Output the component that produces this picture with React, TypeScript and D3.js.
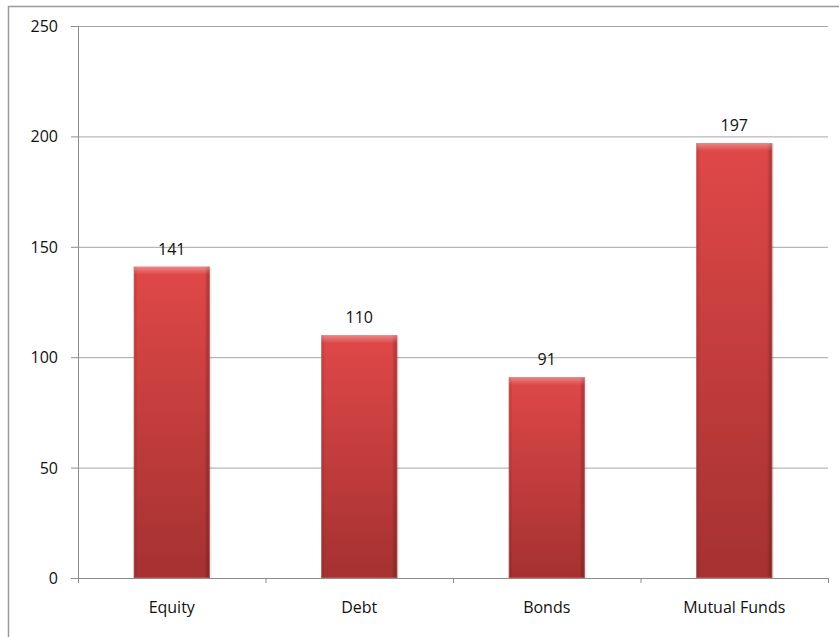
import React from "react";
import * as d3 from "d3";

const categories = ["Equity", "Debt", "Bonds", "Mutual Funds"];
const values = [141, 110, 91, 197];
const yTicks = [0, 50, 100, 150, 200, 250];

export default function App() {
  const W = 839, H = 637;
  const left = 78, right = 828, top = 26, bottom = 578;
  const x = d3.scaleBand<string>().domain(categories).range([left, right]).paddingInner(0.595).paddingOuter(0.2975);
  const y = d3.scaleLinear().domain([0, 250]).range([bottom, top]);
  const font = "'Open Sans', 'Liberation Sans', sans-serif";
  const bw = x.bandwidth();
  const step = x.step();
  return (
    <svg width={W} height={H} style={{ position: "absolute", left: 0, top: 0 }}>
      <defs>
        <linearGradient id="vg" x1="0" y1="0" x2="0" y2="1">
          <stop offset="0" stopColor="#e04848" />
          <stop offset="1" stopColor="#a53131" />
        </linearGradient>
        <linearGradient id="hg" x1="0" y1="0" x2="1" y2="0">
          <stop offset="0" stopColor="#000" stopOpacity="0.18" />
          <stop offset="0.05" stopColor="#000" stopOpacity="0" />
          <stop offset="0.93" stopColor="#000" stopOpacity="0" />
          <stop offset="1" stopColor="#000" stopOpacity="0.3" />
        </linearGradient>
        <linearGradient id="tg" x1="0" y1="0" x2="0" y2="1">
          <stop offset="0" stopColor="#fff" stopOpacity="0.35" />
          <stop offset="1" stopColor="#fff" stopOpacity="0" />
        </linearGradient>
      </defs>
      <rect x={0} y={0} width={W} height={H} fill="#fff" />
      <path d={`M8.5,${H} V6.5 H${W}`} fill="none" stroke="#9a9a9a" strokeWidth={1.5} />
      {yTicks.map((t) => (
        <g key={t}>
          {t > 0 && <line x1={left} x2={right} y1={y(t) + 0.5} y2={y(t) + 0.5} stroke="#a6a6a6" />}
          <line x1={left - 7} x2={left} y1={y(t) + 0.5} y2={y(t) + 0.5} stroke="#8c8c8c" />
          <text x={left - 20} y={y(t) + 6} textAnchor="end" fontFamily={font} fontSize={16} fill="#111">{t}</text>
        </g>
      ))}
      <line x1={left + 0.5} x2={left + 0.5} y1={top} y2={bottom + 5} stroke="#8c8c8c" />
      <line x1={left} x2={right} y1={bottom + 0.5} y2={bottom + 0.5} stroke="#8c8c8c" />
      {d3.range(categories.length + 1).map((i) => (
        <line key={i} x1={left + i * step + 0.5} x2={left + i * step + 0.5} y1={bottom} y2={bottom + 5} stroke="#8c8c8c" />
      ))}
      {categories.map((c, i) => {
        const bx = x(c)!;
        const by = y(values[i]);
        const bh = bottom - by;
        return (
          <g key={c}>
            <rect x={bx + 2} y={by + 1} width={bw} height={bh - 1} fill="#000" opacity={0.08} />
            <rect x={bx} y={by} width={bw} height={bh} fill="url(#vg)" />
            <rect x={bx} y={by} width={bw} height={bh} fill="url(#hg)" />
            <rect x={bx} y={by} width={bw} height={Math.min(8, bh)} fill="url(#tg)" />
            <rect x={bx + 0.5} y={by + 0.5} width={bw - 1} height={bh - 1} fill="none" stroke="#f08080" strokeOpacity={0.35} />
            <text x={bx + bw / 2} y={by - 12} textAnchor="middle" fontFamily={font} fontSize={16} fill="#111">{values[i]}</text>
            <text x={bx + bw / 2} y={613} textAnchor="middle" fontFamily={font} fontSize={16} fill="#111">{c}</text>
          </g>
        );
      })}
    </svg>
  );
}
